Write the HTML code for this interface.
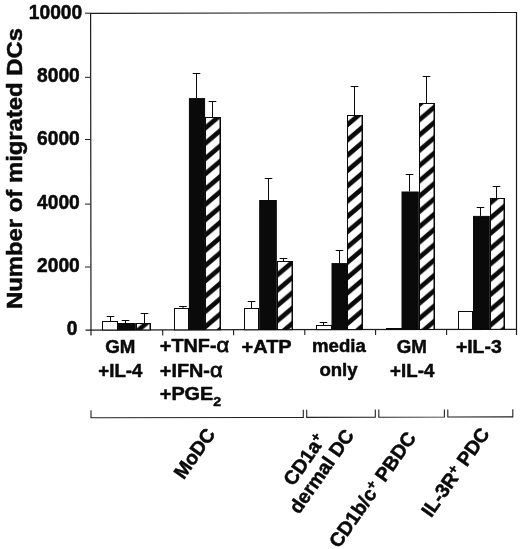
<!DOCTYPE html>
<html><head><meta charset="utf-8"><title>Number of migrated DCs</title>
<style>
html,body{margin:0;padding:0;background:#fff;}
svg{display:block;}
text{font-family:"Liberation Sans", sans-serif;font-weight:bold;fill:#0a0a0a;stroke:#0a0a0a;stroke-width:0.5px;stroke-linejoin:round;}
</style></head><body>
<svg width="520" height="549" viewBox="0 0 520 549">
<defs>
<pattern id="h0" patternUnits="userSpaceOnUse" width="17.988" height="15.29" patternTransform="translate(135.8,11.2)"><rect width="17.988" height="15.29" fill="#fff"/><path d="M-17.988,30.58 L35.976,-15.29 M-17.988,15.29 L17.988,-15.29 M0,30.58 L35.976,0" stroke="#0a0a0a" stroke-width="4.7" fill="none"/></pattern>
<pattern id="h1" patternUnits="userSpaceOnUse" width="17.988" height="15.29" patternTransform="translate(205.1,5.9)"><rect width="17.988" height="15.29" fill="#fff"/><path d="M-17.988,30.58 L35.976,-15.29 M-17.988,15.29 L17.988,-15.29 M0,30.58 L35.976,0" stroke="#0a0a0a" stroke-width="4.7" fill="none"/></pattern>
<pattern id="h2" patternUnits="userSpaceOnUse" width="17.988" height="15.29" patternTransform="translate(276.8,15.5)"><rect width="17.988" height="15.29" fill="#fff"/><path d="M-17.988,30.58 L35.976,-15.29 M-17.988,15.29 L17.988,-15.29 M0,30.58 L35.976,0" stroke="#0a0a0a" stroke-width="4.7" fill="none"/></pattern>
<pattern id="h3" patternUnits="userSpaceOnUse" width="17.988" height="15.29" patternTransform="translate(347.0,2.8)"><rect width="17.988" height="15.29" fill="#fff"/><path d="M-17.988,30.58 L35.976,-15.29 M-17.988,15.29 L17.988,-15.29 M0,30.58 L35.976,0" stroke="#0a0a0a" stroke-width="4.7" fill="none"/></pattern>
<pattern id="h4" patternUnits="userSpaceOnUse" width="17.988" height="15.29" patternTransform="translate(418.8,13.3)"><rect width="17.988" height="15.29" fill="#fff"/><path d="M-17.988,30.58 L35.976,-15.29 M-17.988,15.29 L17.988,-15.29 M0,30.58 L35.976,0" stroke="#0a0a0a" stroke-width="4.7" fill="none"/></pattern>
<pattern id="h5" patternUnits="userSpaceOnUse" width="17.988" height="15.29" patternTransform="translate(489.8,4.6)"><rect width="17.988" height="15.29" fill="#fff"/><path d="M-17.988,30.58 L35.976,-15.29 M-17.988,15.29 L17.988,-15.29 M0,30.58 L35.976,0" stroke="#0a0a0a" stroke-width="4.7" fill="none"/></pattern>

</defs>
<rect width="520" height="549" fill="#fff"/>

<path d="M91,335.5 L90.6,13.3 L516.5,12.5 V335" fill="none" stroke="#1c1c1c" stroke-width="1.2"/>
<path d="M85.5,330 L516.5,329.3" fill="none" stroke="#1c1c1c" stroke-width="1.25"/>
<path d="M162.7,329.9 V335.4" stroke="#1c1c1c" stroke-width="1.1"/>
<path d="M233.6,329.8 V335.3" stroke="#1c1c1c" stroke-width="1.1"/>
<path d="M304.8,329.6 V335.1" stroke="#1c1c1c" stroke-width="1.1"/>
<path d="M375.6,329.5 V335.0" stroke="#1c1c1c" stroke-width="1.1"/>
<path d="M446.6,329.4 V334.9" stroke="#1c1c1c" stroke-width="1.1"/>
<path d="M85,13.2 H90.6" stroke="#1c1c1c" stroke-width="1"/>
<path d="M85,77.3 H90.6" stroke="#1c1c1c" stroke-width="1"/>
<path d="M85,139.5 H90.6" stroke="#1c1c1c" stroke-width="1"/>
<path d="M85,204.1 H90.6" stroke="#1c1c1c" stroke-width="1"/>
<path d="M85,267.0 H90.6" stroke="#1c1c1c" stroke-width="1"/>
<path d="M110.5,321 V316.5 M106.7,316.5 H114.3" stroke="#0a0a0a" stroke-width="1" fill="none"/>
<rect x="102.50" y="321.50" width="15.00" height="8.47" fill="#fff" stroke="#0a0a0a" stroke-width="1.0"/>
<path d="M125.5,323.0 V320.5 M121.7,320.5 H129.3" stroke="#0a0a0a" stroke-width="1" fill="none"/>
<rect x="118.10" y="323.50" width="17.20" height="6.44" fill="#0a0a0a" stroke="#0a0a0a" stroke-width="1.0"/>
<path d="M144.5,323 V313.5 M140.7,313.5 H148.3" stroke="#0a0a0a" stroke-width="1" fill="none"/>
<rect x="136.50" y="323.50" width="14.00" height="6.41" fill="url(#h0)" stroke="#0a0a0a" stroke-width="1.0"/>
<path d="M150.25,323 V329.91" stroke="#0a0a0a" stroke-width="1.5"/>
<path d="M183.0,308 V306.5 M179.2,306.5 H186.8" stroke="#0a0a0a" stroke-width="1" fill="none"/>
<rect x="174.50" y="308.50" width="14.00" height="21.35" fill="#fff" stroke="#0a0a0a" stroke-width="1.0"/>
<path d="M196.5,98.1 V73.5 M192.7,73.5 H200.3" stroke="#0a0a0a" stroke-width="1" fill="none"/>
<rect x="189.40" y="98.60" width="15.20" height="231.23" fill="#0a0a0a" stroke="#0a0a0a" stroke-width="1.0"/>
<path d="M212.5,117 V101.5 M208.7,101.5 H216.3" stroke="#0a0a0a" stroke-width="1" fill="none"/>
<rect x="205.50" y="117.50" width="15.00" height="212.30" fill="url(#h1)" stroke="#0a0a0a" stroke-width="1.0"/>
<path d="M220.25,117 V329.80" stroke="#0a0a0a" stroke-width="1.5"/>
<path d="M251.5,308 V301.5 M247.7,301.5 H255.3" stroke="#0a0a0a" stroke-width="1" fill="none"/>
<rect x="244.50" y="308.50" width="14.00" height="21.24" fill="#fff" stroke="#0a0a0a" stroke-width="1.0"/>
<path d="M268.5,200.0 V178.5 M264.7,178.5 H272.3" stroke="#0a0a0a" stroke-width="1" fill="none"/>
<rect x="259.70" y="200.50" width="16.60" height="129.21" fill="#0a0a0a" stroke="#0a0a0a" stroke-width="1.0"/>
<path d="M283.5,261 V258.5 M279.7,258.5 H287.3" stroke="#0a0a0a" stroke-width="1" fill="none"/>
<rect x="277.50" y="261.50" width="15.00" height="68.18" fill="url(#h2)" stroke="#0a0a0a" stroke-width="1.0"/>
<path d="M292.25,261 V329.68" stroke="#0a0a0a" stroke-width="1.5"/>
<path d="M323.5,325 V322.5 M319.7,322.5 H327.3" stroke="#0a0a0a" stroke-width="1" fill="none"/>
<rect x="316.50" y="325.50" width="15.00" height="4.12" fill="#fff" stroke="#0a0a0a" stroke-width="1.0"/>
<path d="M339.5,263.1 V250.5 M335.7,250.5 H343.3" stroke="#0a0a0a" stroke-width="1" fill="none"/>
<rect x="332.00" y="263.60" width="14.50" height="65.99" fill="#0a0a0a" stroke="#0a0a0a" stroke-width="1.0"/>
<path d="M354.5,115 V86.5 M350.7,86.5 H358.3" stroke="#0a0a0a" stroke-width="1" fill="none"/>
<rect x="347.50" y="115.50" width="15.00" height="214.07" fill="url(#h3)" stroke="#0a0a0a" stroke-width="1.0"/>
<path d="M362.25,115 V329.57" stroke="#0a0a0a" stroke-width="1.5"/>
<rect x="386.50" y="328.50" width="15.00" height="1.00" fill="#fff" stroke="#0a0a0a" stroke-width="1.0"/>
<path d="M409.5,191.5 V174.5 M405.7,174.5 H413.3" stroke="#0a0a0a" stroke-width="1" fill="none"/>
<rect x="402.00" y="192.00" width="16.30" height="137.47" fill="#0a0a0a" stroke="#0a0a0a" stroke-width="1.0"/>
<path d="M426.5,103 V76.5 M422.7,76.5 H430.3" stroke="#0a0a0a" stroke-width="1" fill="none"/>
<rect x="419.50" y="103.50" width="15.00" height="225.95" fill="url(#h4)" stroke="#0a0a0a" stroke-width="1.0"/>
<path d="M434.25,103 V329.45" stroke="#0a0a0a" stroke-width="1.5"/>
<rect x="458.50" y="311.50" width="14.00" height="17.88" fill="#fff" stroke="#0a0a0a" stroke-width="1.0"/>
<path d="M480.5,215.9 V207.5 M476.7,207.5 H484.3" stroke="#0a0a0a" stroke-width="1" fill="none"/>
<rect x="473.50" y="216.40" width="15.80" height="112.96" fill="#0a0a0a" stroke="#0a0a0a" stroke-width="1.0"/>
<path d="M496.5,198 V186.5 M492.7,186.5 H500.3" stroke="#0a0a0a" stroke-width="1" fill="none"/>
<rect x="490.50" y="198.50" width="14.00" height="130.83" fill="url(#h5)" stroke="#0a0a0a" stroke-width="1.0"/>
<path d="M504.25,198 V329.33" stroke="#0a0a0a" stroke-width="1.5"/>
<text transform="translate(82.2,18.8) scale(0.985,1)" font-size="19.5" text-anchor="end">10000</text>
<text transform="translate(79.8,82.2) scale(0.985,1)" font-size="19.5" text-anchor="end">8000</text>
<text transform="translate(79.8,145.4) scale(0.985,1)" font-size="19.5" text-anchor="end">6000</text>
<text transform="translate(79.8,209.1) scale(0.985,1)" font-size="19.5" text-anchor="end">4000</text>
<text transform="translate(79.8,272.0) scale(0.985,1)" font-size="19.5" text-anchor="end">2000</text>
<text transform="translate(77.5,335.3) scale(0.985,1)" font-size="19.5" text-anchor="end">0</text>
<text transform="translate(21.7,309.0) rotate(-90) scale(1.056,1)" font-size="22.6" text-anchor="start">Number of migrated DCs</text>
<text transform="translate(120.2,353.0) scale(0.985,1)" font-size="19.0" text-anchor="middle">GM</text>
<text transform="translate(120.4,377.2) scale(0.985,1)" font-size="19.0" text-anchor="middle">+IL-4</text>
<text transform="translate(159.8,352.4) scale(1.045,1)" font-size="19.0" text-anchor="start">+TNF-<tspan font-size="21" font-weight="normal" stroke-width="0.8">α</tspan></text>
<text transform="translate(159.8,376.5) scale(1.045,1)" font-size="19.0" text-anchor="start">+IFN-<tspan font-size="21" font-weight="normal" stroke-width="0.8">α</tspan></text>
<text transform="translate(159.8,399.5) scale(1.045,1)" font-size="19.0" text-anchor="start">+PGE<tspan font-size="13.5" dy="6.8">2</tspan></text>
<text transform="translate(266.6,352.9) scale(1.05,1)" font-size="19.0" text-anchor="middle">+ATP</text>
<text transform="translate(338.9,352.3) scale(0.98,1)" font-size="19.0" text-anchor="middle">media</text>
<text transform="translate(338.5,376.2) scale(0.98,1)" font-size="19.0" text-anchor="middle">only</text>
<text transform="translate(411.8,352.7) scale(0.985,1)" font-size="19.0" text-anchor="middle">GM</text>
<text transform="translate(412.2,377.2) scale(0.985,1)" font-size="19.0" text-anchor="middle">+IL-4</text>
<text transform="translate(478.8,352.9) scale(1.02,1)" font-size="19.0" text-anchor="middle">+IL-3</text>
<path d="M91,410.20 V417.80 L303.3,417.35 V409.75" fill="none" stroke="#222" stroke-width="1.1"/>
<path d="M306.7,409.74 V417.34 L375.3,417.19 V409.59" fill="none" stroke="#222" stroke-width="1.1"/>
<path d="M378.8,409.59 V417.19 L444.4,417.05 V409.45" fill="none" stroke="#222" stroke-width="1.1"/>
<path d="M447.8,409.44 V417.04 L512.8,416.90 V409.30" fill="none" stroke="#222" stroke-width="1.1"/>
<text transform="translate(183.7,480.3) rotate(-55)" font-size="19.5" text-anchor="start">MoDC</text>
<text transform="translate(293.3,487) rotate(-55)" font-size="19.5" text-anchor="start">CD1a<tspan font-size="13.5" dy="-6">+</tspan></text>
<text transform="translate(299,515) rotate(-55)" font-size="19.5" text-anchor="start">dermal DC</text>
<text transform="translate(338.9,549) rotate(-55)" font-size="19.5" text-anchor="start">CD1b/c<tspan font-size="13.5" dy="-6">+</tspan><tspan dy="6"> PBDC</tspan></text>
<text transform="translate(431.2,518.3) rotate(-55)" font-size="19.5" text-anchor="start">IL-3R<tspan font-size="13.5" dy="-6">+</tspan><tspan dy="6"> PDC</tspan></text>
</svg></body></html>
